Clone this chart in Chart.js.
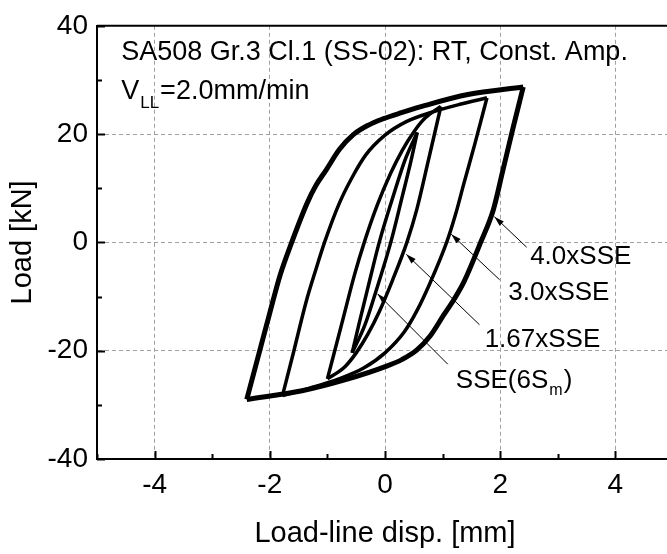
<!DOCTYPE html>
<html>
<head>
<meta charset="utf-8">
<script src="https://cdn.jsdelivr.net/npm/chart.js@4.4.0/dist/chart.umd.min.js"></script>
<style>
html, body { margin:0; padding:0; background:#fff; overflow:hidden; }
#wrap { width:673px; height:554px; }
</style>
</head>
<body>
<div id="wrap"><canvas id="chart_a" width="673" height="554"></canvas></div>
<script>
// hysteresis loops [disp mm, load kN], each branch from bottom-left tip to top-right tip
var up40 = [[-2.4,-29.0],[-2.2,-21.0],[-2.0,-13.0],[-1.82,-6.0],[-1.62,0],[-1.35,7.3],[-1.2,10.5],[-1.02,13.4],[-0.79,17.2],[-0.55,19.9],[-0.3,21.6],[-0.04,22.8],[0.3,24.0],[0.7,25.3],[1.44,27.3],[2.4,28.7]];
var lo40 = [[-2.4,-29.0],[-1.44,-27.4],[-0.7,-25.4],[0.04,-22.8],[0.3,-21.6],[0.55,-19.9],[0.79,-17.2],[1.02,-13.4],[1.2,-10.5],[1.37,-7.3],[1.66,0],[1.88,6.0],[2.04,13.0],[2.22,21.0],[2.4,28.7]];
var up30 = [[-1.78,-28.3],[-1.6,-20.8],[-1.37,-11.0],[-1.2,-5.0],[-1.05,0],[-0.79,7.3],[-0.55,12.4],[-0.33,16.2],[0.0,19.8],[0.37,22.3],[0.8,24.0],[1.3,25.5],[1.77,26.7]];
var lo30 = [[-1.78,-28.3],[-1.3,-26.9],[-0.8,-25.2],[-0.37,-23.2],[0.0,-20.4],[0.33,-16.6],[0.55,-12.7],[0.79,-7.3],[1.07,0],[1.22,5.0],[1.37,10.9],[1.56,18.2],[1.77,26.7]];
var up167 = [[-1.0,-25.2],[-0.75,-15.0],[-0.53,-6.0],[-0.36,0],[-0.13,7.0],[0.1,12.8],[0.3,17.0],[0.5,20.4],[0.7,23.0],[0.97,25.1]];
var lo167 = [[-1.0,-25.2],[-0.7,-23.0],[-0.5,-20.4],[-0.3,-17.0],[-0.1,-12.8],[0.13,-7.0],[0.38,0],[0.55,6.0],[0.75,15.0],[0.97,25.1]];
var upSSE = [[-0.57,-20.4],[-0.45,-15.0],[-0.3,-8.5],[-0.1,0],[0.15,8.8],[0.35,15.3],[0.56,20.3]];
var loSSE = [[-0.57,-20.4],[-0.35,-15.3],[-0.15,-8.8],[0.1,0],[0.3,8.5],[0.45,15.0],[0.56,20.3]];

// leader labels and arrows (data coords)
var noteText = ['4.0xSSE', '3.0xSSE', '1.67xSSE', 'SSE(6S'];
var notePos = [[2.52,-2.6],[2.14,-9.3],[1.73,-18.0],[1.23,-25.6]];
var arrowTail = [[2.46,-0.9],[1.99,-6.9],[1.64,-15.2],[1.09,-22.5]];
var arrowHead = [[1.9,4.75],[1.15,1.5],[0.37,-2.2],[-0.13,-9.5]];

var titleLine1 = 'SA508 Gr.3 Cl.1 (SS-02): RT, Const. Amp.';
var titleLine2 = ['V', 'LL', '=2.0mm/min'];
var titlePos = [[-4.58,35.1],[-4.58,27.9]];

var FONT = '"Liberation Sans", Arial, sans-serif';

function pts(arr) {
  return arr.map(function(p){ return {x: p[0], y: p[1]}; });
}
var branches = [up40, lo40, up30, lo30, up167, lo167, upSSE, loSSE];
var datasets = branches.map(function(b, i){
  return {
    data: pts(b),
    showLine: true,
    borderColor: '#000',
    borderWidth: i < 2 ? 5 : 3.5,
    pointRadius: 0,
    cubicInterpolationMode: 'monotone',
    fill: false
  };
});

var notesPlugin = {
  id: 'notes',
  afterDatasetsDraw: function(chart) {
    var ctx = chart.ctx, xs = chart.scales.x, ys = chart.scales.y, a = chart.chartArea;
    ctx.save();
    ctx.strokeStyle = '#000';
    ctx.lineWidth = 2;
    // top frame line
    ctx.beginPath(); ctx.moveTo(a.left, a.top); ctx.lineTo(a.right, a.top); ctx.stroke();
    // inward ticks
    xs.ticks.forEach(function(t){
      var px = Math.round(xs.getPixelForValue(t.value)) + 0.5;
      var len = (t.value % 2 === 0) ? 8 : 5;
      ctx.beginPath(); ctx.moveTo(px, a.bottom); ctx.lineTo(px, a.bottom - len); ctx.stroke();
    });
    ys.ticks.forEach(function(t){
      var py = Math.round(ys.getPixelForValue(t.value)) + 0.5;
      var len = (t.value % 20 === 0) ? 8 : 5;
      ctx.beginPath(); ctx.moveTo(a.left, py); ctx.lineTo(a.left + len, py); ctx.stroke();
    });

    ctx.fillStyle = '#000';
    ctx.textBaseline = 'middle';
    ctx.textAlign = 'left';
    // header text
    ctx.font = '27px ' + FONT;
    var x1 = xs.getPixelForValue(titlePos[0][0]);
    ctx.fillText(titleLine1, x1, ys.getPixelForValue(titlePos[0][1]));
    var x2 = xs.getPixelForValue(titlePos[1][0]);
    var y2 = ys.getPixelForValue(titlePos[1][1]);
    ctx.fillText(titleLine2[0], x2, y2);
    var w = ctx.measureText(titleLine2[0]).width;
    ctx.font = '17px ' + FONT;
    ctx.fillText(titleLine2[1], x2 + w + 1, y2 + 12);
    w += ctx.measureText(titleLine2[1]).width + 2;
    ctx.font = '27px ' + FONT;
    ctx.fillText(titleLine2[2], x2 + w, y2);

    // leader arrows
    ctx.lineWidth = 1;
    for (var i = 0; i < arrowTail.length; i++) {
      var tx = xs.getPixelForValue(arrowTail[i][0]), ty = ys.getPixelForValue(arrowTail[i][1]);
      var hx = xs.getPixelForValue(arrowHead[i][0]), hy = ys.getPixelForValue(arrowHead[i][1]);
      ctx.beginPath(); ctx.moveTo(tx, ty); ctx.lineTo(hx, hy); ctx.stroke();
      var ang = Math.atan2(hy - ty, hx - tx);
      ctx.beginPath();
      ctx.moveTo(hx, hy);
      ctx.lineTo(hx - 10 * Math.cos(ang) + 3 * Math.sin(ang), hy - 10 * Math.sin(ang) - 3 * Math.cos(ang));
      ctx.lineTo(hx - 10 * Math.cos(ang) - 3 * Math.sin(ang), hy - 10 * Math.sin(ang) + 3 * Math.cos(ang));
      ctx.closePath();
      ctx.fill();
    }

    // leader labels
    for (var j = 0; j < noteText.length; j++) {
      var lx = xs.getPixelForValue(notePos[j][0]), ly = ys.getPixelForValue(notePos[j][1]);
      ctx.font = '26px ' + FONT;
      ctx.fillText(noteText[j], lx, ly);
      if (j === 3) {
        var ww = ctx.measureText(noteText[j]).width;
        ctx.font = '16px ' + FONT;
        ctx.fillText('m', lx + ww + 1, ly + 10);
        ww += ctx.measureText('m').width + 2;
        ctx.font = '26px ' + FONT;
        ctx.fillText(')', lx + ww, ly);
      }
    }
    ctx.restore();
  }
};

var ctxL = document.getElementById('chart_a').getContext('2d');
var myChart = new Chart(ctxL, {
  type: 'scatter',
  data: { datasets: datasets },
  options: {
    responsive: false,
    animation: false,
    layout: { padding: { left: 0, top: 21, right: 0, bottom: 0 } },
    plugins: { legend: { display: false }, tooltip: { enabled: false } },
    scales: {
      x: {
        type: 'linear', min: -5, max: 5,
        afterFit: function(s){ s.height = 95; s.paddingLeft = 0; s.paddingRight = 0; },
        ticks: {
          stepSize: 1, autoSkip: false, maxRotation: 0, padding: 9,
          color: '#000', font: { family: FONT, size: 28 },
          callback: function(v){ return (v % 2 === 0 && Math.abs(v) < 5) ? String(v) : ''; }
        },
        grid: {
          drawTicks: false, lineWidth: 1,
          color: function(c){ var v = c.tick.value; return (v % 2 === 0 && Math.abs(v) < 5) ? '#a0a0a0' : 'rgba(0,0,0,0)'; }
        },
        border: { display: true, color: '#000', width: 2, dash: [4, 3] },
        title: { display: true, text: 'Load-line disp. [mm]', color: '#000', font: { family: FONT, size: 29 }, padding: { top: 0, bottom: 3 } }
      },
      y: {
        type: 'linear', min: -40, max: 40,
        afterFit: function(s){ s.width = 97; },
        ticks: {
          stepSize: 10, autoSkip: false, padding: 9,
          color: '#000', font: { family: FONT, size: 28 },
          callback: function(v){ return (v % 20 === 0) ? String(v) : ''; }
        },
        grid: {
          drawTicks: false, lineWidth: 1,
          color: function(c){ var v = c.tick.value; return (v % 20 === 0 && Math.abs(v) < 40) ? '#a0a0a0' : 'rgba(0,0,0,0)'; }
        },
        border: { display: true, color: '#000', width: 2, dash: [4, 3] },
        title: { display: true, text: 'Load [kN]', color: '#000', font: { family: FONT, size: 29 }, padding: { top: 6, bottom: 0 } }
      }
    }
  },
  plugins: [notesPlugin]
});
</script>
</body>
</html>
